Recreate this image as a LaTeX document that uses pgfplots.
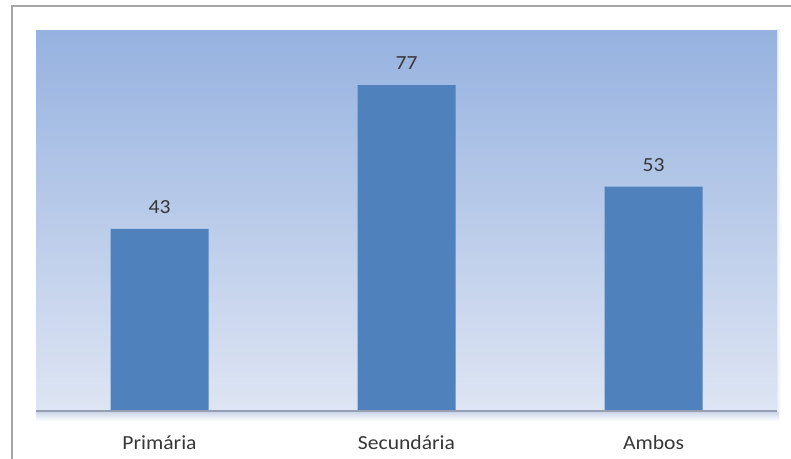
\documentclass[border=0pt]{standalone}
\usepackage{pgfplots}
\pgfplotsset{compat=1.18}
\usepackage{fontspec}
\setmainfont{Carlito}
\definecolor{barblue}{RGB}{79,129,189}
\definecolor{bgtop}{RGB}{150,178,224}
\definecolor{bgbot}{RGB}{222,229,243}
\definecolor{framegray}{RGB}{165,165,165}
\definecolor{labelgray}{RGB}{55,55,55}
\definecolor{basegray}{RGB}{150,160,178}
\definecolor{shadowblue}{RGB}{200,210,230}
\definecolor{sideshadow}{RGB}{232,237,246}
\begin{document}
\begin{tikzpicture}[x=1pt,y=1pt]
  \useasboundingbox (0,0) rectangle (791,458);
  \clip (0,0) rectangle (791,458);
  \fill[white] (0,0) rectangle (791,458);
  % outer chart frame
  \draw[framegray, line width=2pt] (12,-20) -- (12,452) -- (830,452);
  % soft shadow under the plot area
  \shade[top color=shadowblue, bottom color=white] (36,37) rectangle (779,47);
  \shade[left color=sideshadow, right color=white] (777,47) rectangle (781,428);
  \begin{axis}[
    at={(36pt,47pt)}, anchor=south west,
    scale only axis,
    width=741pt, height=381pt,
    xmin=-0.5, xmax=2.5,
    ymin=0, ymax=90,
    axis line style={draw=none},
    axis background/.style={shade, top color=bgtop, bottom color=bgbot},
    ytick=\empty,
    xtick={0,1,2},
    xticklabels={Primária,Secundária,Ambos},
    xtick style={draw=none},
    xticklabel style={anchor=base, yshift=-34pt, xscale=1.08, text=labelgray,
      font=\fontsize{20}{24}\selectfont},
    /pgf/number format/assume math mode=true,
    ybar, bar width=98pt,
    nodes near coords,
    every node near coord/.append style={inner sep=0pt, yshift=15pt, xscale=1.08,
      text=labelgray, font=\fontsize{20}{24}\selectfont},
    clip=false,
  ]
    \addplot[fill=barblue, draw=none] coordinates {(0,43) (1,77) (2,53)};
    \draw[basegray, line width=1.2pt] (rel axis cs:0,0) -- (rel axis cs:1,0);
  \end{axis}
\end{tikzpicture}
\end{document}
